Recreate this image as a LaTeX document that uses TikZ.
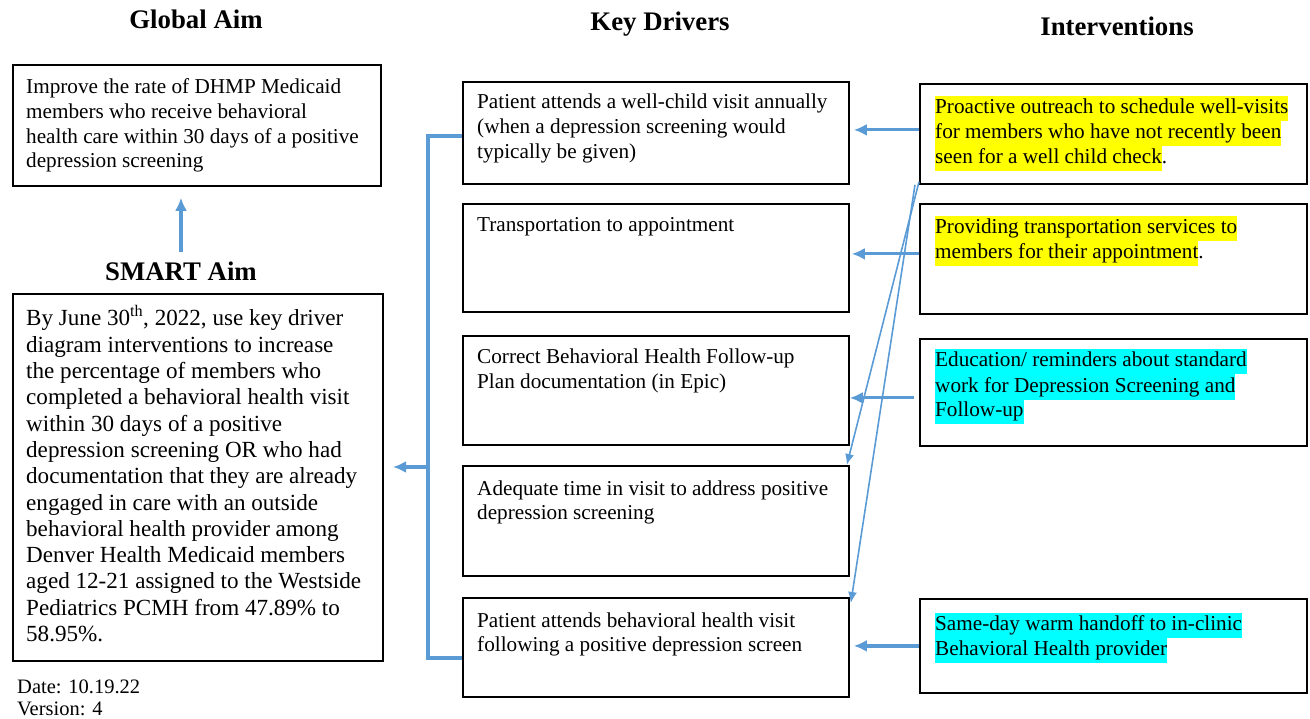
\documentclass[tikz,border=0pt]{standalone}
\usepackage{fontspec}
\setmainfont{Liberation Serif}
\usetikzlibrary{arrows.meta,calc}
\definecolor{arrblue}{RGB}{91,155,213}
\definecolor{hlyellow}{RGB}{255,255,0}
\definecolor{hlcyan}{RGB}{0,255,255}
\setlength{\fboxsep}{0pt}
\newcommand{\hly}[1]{\colorbox{hlyellow}{\strut #1}}
\newcommand{\hlc}[1]{\colorbox{hlcyan}{\strut #1}}
\newcommand{\lns}[1]{\begin{tabular}[t]{@{}l@{}}#1\end{tabular}}
\tikzset{
  box/.style={draw=black, line width=1.8pt, rectangle, anchor=north west, inner sep=0pt},
  txt/.style={anchor=base west, inner sep=0pt, font=\fontsize{21.2}{24.6}\selectfont},
  itxt/.style={anchor=base west, inner sep=0pt, font=\fontsize{21.2}{25}\selectfont},
  stxt/.style={anchor=base west, inner sep=0pt, font=\fontsize{23.1}{26.3}\selectfont},
  title/.style={anchor=base, inner sep=0pt, font=\fontsize{26.8}{30}\selectfont\bfseries},
  bl/.style={draw=arrblue, line width=3.2pt},
  blarrow/.style={bl, -{Latex[length=13pt,width=12pt]}},
  thinarrow/.style={draw=arrblue, line width=1.6pt, -{Latex[length=11pt,width=9pt]}},
}
\begin{document}
\begin{tikzpicture}[x=1pt,y=-1pt]
\useasboundingbox (0,0) rectangle (1310,719);
% titles
\node[title] (tglob) at (196,29) {Global Aim};
\node[title] (tkd) at (660,31) {Key Drivers};
\node[title] (tint) at (1117,36) {Interventions};
\node[title] (tsmart) at (181,281) {SMART Aim};
% global aim
\node[box, minimum width=368pt, minimum height=121pt] (glob) at (12,64) {};
\node[txt] (globt) at (26,94) {\lns{Improve the rate of DHMP Medicaid\\members who receive behavioral\\health care within 30 days of a positive\\depression screening}};
% smart aim
\node[box, minimum width=370pt, minimum height=367pt] (smart) at (12,293) {};
\node[stxt] (smartt) at (26,326) {\lns{By June 30\textsuperscript{th}, 2022, use key driver\\diagram interventions to increase\\the percentage of members who\\completed a behavioral health visit\\within 30 days of a positive\\depression screening OR who had\\documentation that they are already\\engaged in care with an outside\\behavioral health provider among\\Denver Health Medicaid members\\aged 12-21 assigned to the Westside\\Pediatrics PCMH from 47.89\% to\\58.95\%.}};
\node[txt, font=\fontsize{20.5}{22.5}\selectfont] (date) at (17,693) {\lns{Date: 10.19.22\\Version: 4}};
% key drivers
\node[box, minimum width=386pt, minimum height=102pt] (kd1) at (462,81) {};
\node[box, minimum width=386pt, minimum height=108pt] (kd2) at (462,203) {};
\node[box, minimum width=386pt, minimum height=109pt] (kd3) at (462,335) {};
\node[box, minimum width=386pt, minimum height=110pt] (kd4) at (462,465) {};
\node[box, minimum width=386pt, minimum height=99pt] (kd5) at (462,597) {};
\node[txt] (kd1t) at (477,109) {\lns{Patient attends a well-child visit annually\\(when a depression screening would\\typically be given)}};
\node[txt] (kd2t) at (477,232) {Transportation to appointment};
\node[txt] (kd3t) at (477,364) {\lns{Correct Behavioral Health Follow-up\\Plan documentation (in Epic)}};
\node[txt] (kd4t) at (477,495) {\lns{Adequate time in visit to address positive\\depression screening}};
\node[txt] (kd5t) at (477,627) {\lns{Patient attends behavioral health visit\\following a positive depression screen}};
% interventions
\node[box, minimum width=387pt, minimum height=100pt] (int1) at (919,83) {};
\node[box, minimum width=387pt, minimum height=110pt] (int2) at (919,203) {};
\node[box, minimum width=387pt, minimum height=107pt] (int3) at (919,338) {};
\node[box, minimum width=387pt, minimum height=94pt] (int4) at (919,598) {};
\node[itxt] (int1t) at (935,114) {\lns{\hly{Proactive outreach to schedule well-visits}\\\hly{for members who have not recently been}\\\hly{seen for a well child check}.}};
\node[itxt] (int2t) at (935,234) {\lns{\hly{Providing transportation services to}\\\hly{members for their appointment}.}};
\node[itxt] (int3t) at (935,367) {\lns{\hlc{Education/ reminders about standard}\\\hlc{work for Depression Screening and}\\\hlc{Follow-up}}};
\node[itxt] (int4t) at (935,630) {\lns{\hlc{Same-day warm handoff to in-clinic}\\\hlc{Behavioral Health provider}}};
% up arrow
\draw[blarrow, shorten >=11pt] ($(tsmart.north)+(0,-10)$) -- (tsmart.north |- glob.south);
% bracket
\coordinate (btop) at (428,136);
\coordinate (bbot) at (428,658);
\coordinate (bmid) at (428,467);
\coordinate (aimtip) at (393,467);
\draw[bl] (btop -| kd1.west) -- (btop) -- (bbot) -- (bbot -| kd5.west);
\draw[blarrow] (bmid) -- (aimtip);
% horizontal arrows
\draw[blarrow, shorten >=4pt] ($(int1.west)+(0,-4)$) -- ($(int1.west -| kd1.east)+(0,-4)$);
\draw[blarrow, shorten >=2pt] ($(int2.west)+(0,-5)$) -- ($(int2.west -| kd2.east)+(0,-5)$);
\draw[blarrow] ($(int3.west)+(-5,5.5)$) -- ($(int3.west -| kd3.east)+(0,5.5)$);
\draw[blarrow, shorten >=4pt] (int4.west) -- (int4.west -| kd5.east);
% diagonal arrows
\draw[thinarrow] ($(int1.south west)+(0,-3)$) -- ($(kd4.north east)+(-3,0)$);
\draw[thinarrow] ($(int1.south west)+(-4,0)$) -- ($(kd5.north east)+(1,6)$);
\end{tikzpicture}
\end{document}
